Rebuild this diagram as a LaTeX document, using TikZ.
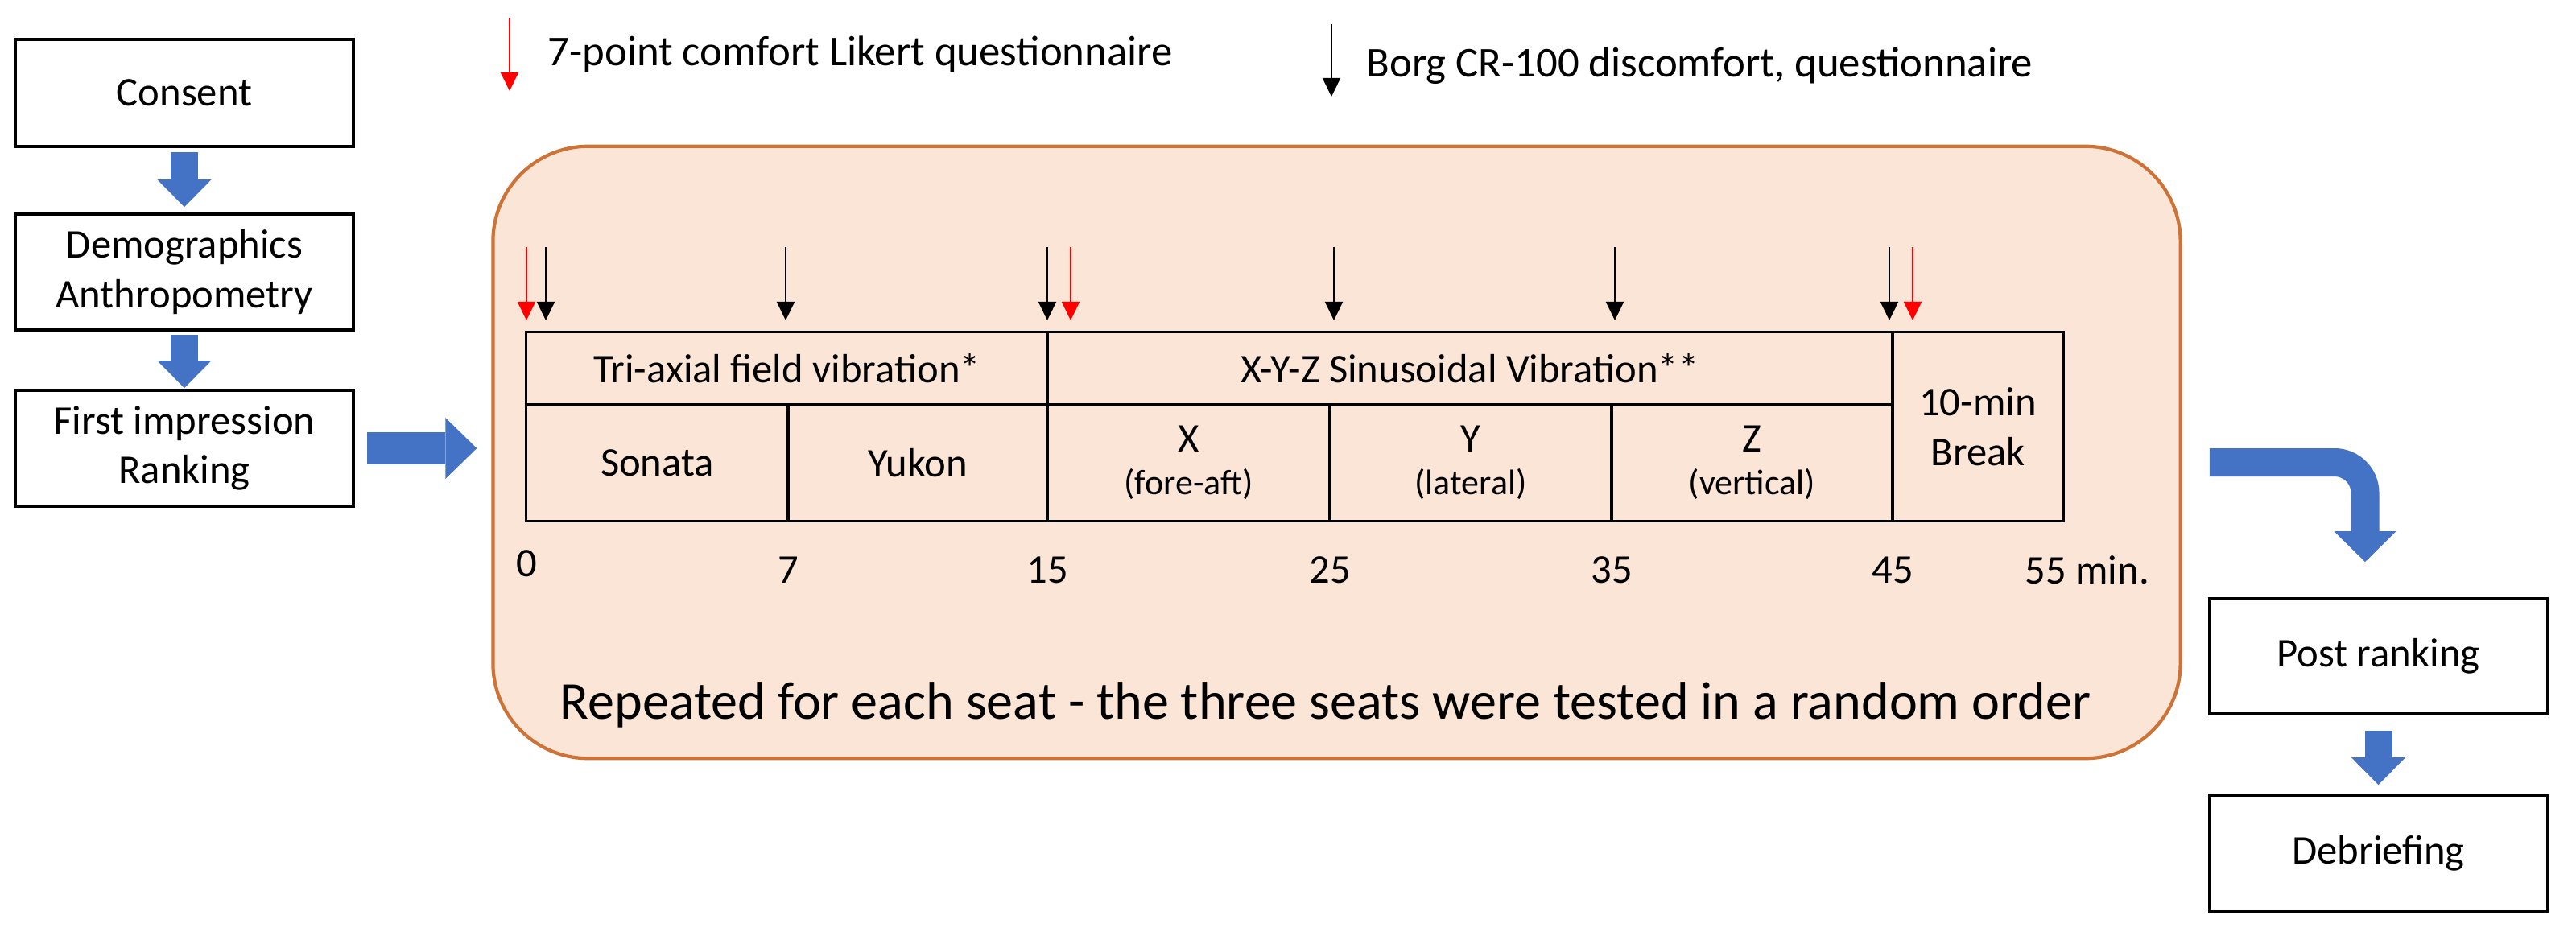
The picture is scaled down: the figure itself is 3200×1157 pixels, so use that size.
\documentclass[tikz,border=0pt]{standalone}
\usepackage{fontspec}
\setmainfont{Carlito}
\usetikzlibrary{arrows.meta}
\definecolor{blockblue}{HTML}{4472C4}
\definecolor{panelfill}{HTML}{FBE5D6}
\definecolor{paneldraw}{RGB}{205,115,55}
\definecolor{markred}{RGB}{255,0,0}
\newcommand{\fsN}{\fontsize{14.4}{17.5}\selectfont}
\newcommand{\fsS}{\fontsize{12.5}{15}\selectfont}
\newcommand{\fsL}{\fontsize{15}{18}\selectfont}
\newcommand{\fsB}{\fontsize{18.8}{22}\selectfont}
\begin{document}
\begin{tikzpicture}[x=0.01cm, y=-0.01cm,
  stagebox/.style={draw, line width=1pt, minimum width=4.2cm, inner sep=0pt, align=center, font=\fsN},
  cell/.style={draw, line width=0.85pt, inner sep=0pt, align=center, font=\fsN},
  tlabel/.style={inner sep=0pt, font=\fsN},
  redmarker/.style={draw=markred, line width=0.6pt, -{Triangle[width=0.22cm,length=0.23cm]}},
  blackmarker/.style={draw=black, line width=0.6pt, -{Triangle[width=0.22cm,length=0.23cm]}},
  blockarrow/.style={draw=blockblue, line width=0.34cm, -{Triangle[width=0.67cm,length=0.34cm,line width=0pt]}}
]
\useasboundingbox (0,0) rectangle (3200,1157);

% left column
\node[stagebox, minimum height=1.33cm] (consent) at (229,115.5) {Consent};
\node[stagebox, minimum height=1.44cm] (demo) at (229,338) {Demographics\\Anthropometry};
\node[stagebox, minimum height=1.44cm] (first) at (229,557) {First impression\\Ranking};

% panel
\node[draw=paneldraw, fill=panelfill, line width=1.2pt, rounded corners=1.18cm,
      minimum width=20.95cm, minimum height=7.6cm, inner sep=0pt] (panel) at (1660.5,562) {};

% legend
\draw[redmarker] (633,22) -- (633,113);
\node[anchor=west, inner sep=0pt, font=\fsL] (leglikert) at (680,67) {7-point comfort Likert questionnaire};
\draw[blackmarker] (1654,30) -- (1654,120);
\node[anchor=west, inner sep=0pt, font=\fsL] (legborg) at (1697,82) {Borg CR-100 discomfort, questionnaire};

% table
\node[cell, minimum width=6.47cm, minimum height=0.90cm] (tri) at (977.5,458) {Tri-axial field vibration*};
\node[cell, minimum width=10.50cm, minimum height=0.90cm] (xyz) at (1826,458) {X-Y-Z Sinusoidal Vibration**};
\node[cell, minimum width=3.25cm, minimum height=1.44cm] (sonata) at (816.5,575) {Sonata};
\node[cell, minimum width=3.22cm, minimum height=1.44cm] (yukon) at (1140,575) {Yukon};
\node[cell, minimum width=3.51cm, minimum height=1.44cm] (cx) at (1476.5,575) {X\\[-2.5pt]{\fsS (fore-aft)}};
\node[cell, minimum width=3.50cm, minimum height=1.44cm] (cy) at (1827,575) {Y\\[-2.5pt]{\fsS (lateral)}};
\node[cell, minimum width=3.49cm, minimum height=1.44cm] (cz) at (2176.5,575) {Z\\[-2.5pt]{\fsS (vertical)}};
\node[cell, minimum width=2.12cm, minimum height=2.34cm] (brk) at (2457,530) {10-min\\Break};

% questionnaire markers
\foreach \qx in {654,1330,2376} \draw[redmarker] (\qx,307) -- (\qx,398);
\foreach \qx in {678,976,1301,1657,2006,2347} \draw[blackmarker] (\qx,307) -- (\qx,398);

% time axis
\node[tlabel] (t0) at (654,700) {0};
\node[tlabel] (t7) at (979,708) {7};
\node[tlabel] (t15) at (1301,708) {15};
\node[tlabel] (t25) at (1652,708) {25};
\node[tlabel] (t35) at (2002,708) {35};
\node[tlabel] (t45) at (2351,708) {45};
\node[tlabel, anchor=west] (t55) at (2515,708) {55 min.};

\node[anchor=base, inner sep=0pt, font=\fsB] (repeated) at (1646.5,893) {Repeated for each seat - the three seats were tested in a random order};

% right column
\node[stagebox, minimum height=1.43cm] (post) at (2954.5,815.5) {Post ranking};
\node[stagebox, minimum height=1.45cm] (debrief) at (2954.5,1060.5) {Debriefing};

% block arrows
\draw[blockarrow, shorten <=0.05cm, shorten >=0.07cm] (consent.south) -- (demo.north);
\draw[blockarrow, shorten <=0.04cm, shorten >=0.01cm] (demo.south) -- (first.north);
\draw[draw=blockblue, line width=0.39cm, -{Triangle[width=0.76cm,length=0.39cm,line width=0pt]},
      shorten <=0.15cm, shorten >=0.18cm] (first.east) -- (first.east -| panel.west);
\draw[draw=blockblue, line width=0.35cm, -{Triangle[width=0.77cm,length=0.38cm,line width=0pt]},
      rounded corners=0.38cm, shorten <=0.34cm, shorten >=0.44cm]
      ([yshift=-0.125cm]panel.east) -| ([xshift=-0.165cm]post.north);
\draw[blockarrow, shorten <=0.19cm, shorten >=0.11cm] (post.south) -- (debrief.north);
\end{tikzpicture}
\end{document}
